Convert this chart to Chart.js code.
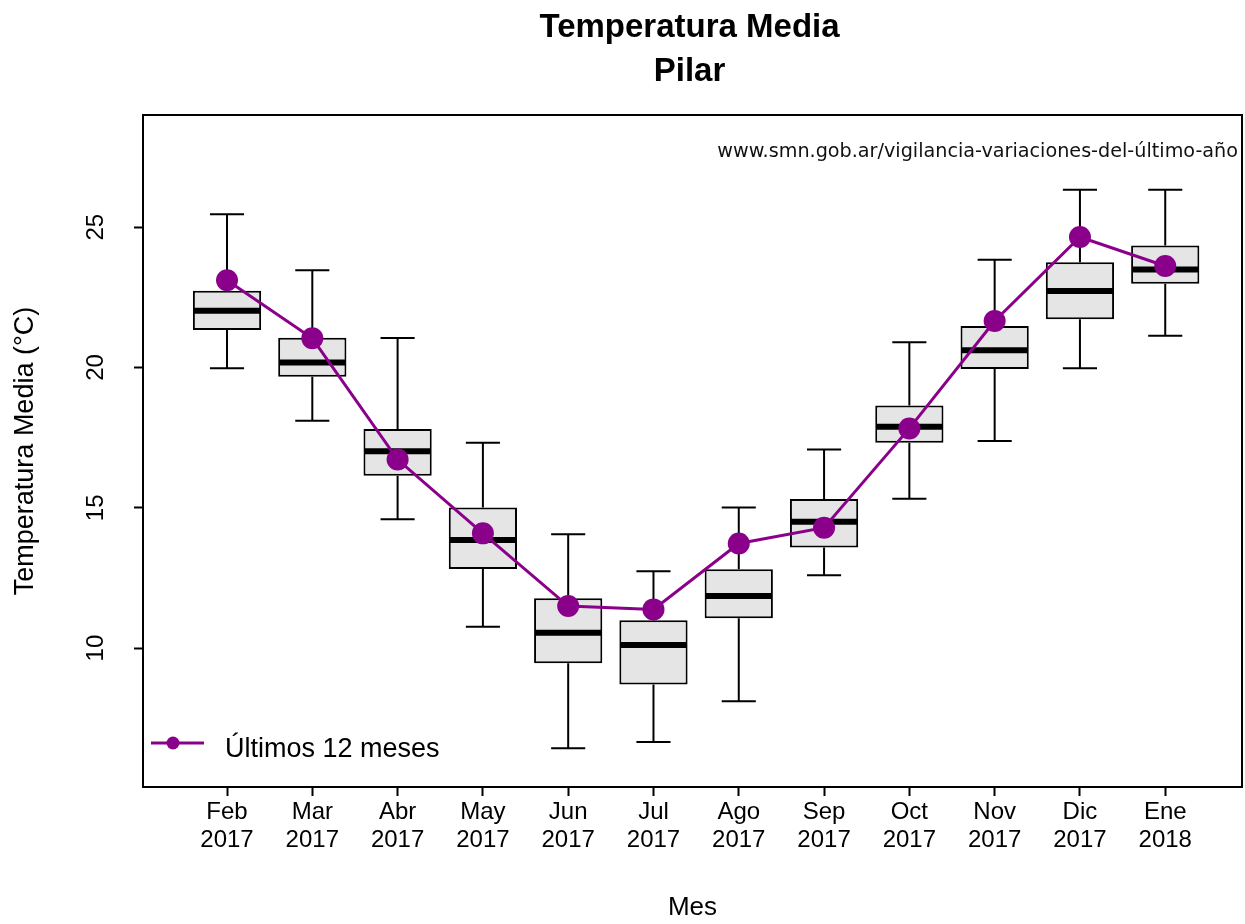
<!DOCTYPE html>
<html lang="es">
<head>
<meta charset="UTF-8">
<title>Temperatura Media - Pilar</title>
<style>
  body { margin: 0; background: #fff; }
  canvas { display: block; }
</style>
</head>
<body>
<canvas id="grafico" width="1245" height="924"></canvas>
<script src="https://cdn.jsdelivr.net/npm/chart.js"></script>
<script>
// Datos
const meses = [['Feb', '2017'], ['Mar', '2017'], ['Abr', '2017'], ['May', '2017'], ['Jun', '2017'], ['Jul', '2017'],
               ['Ago', '2017'], ['Sep', '2017'], ['Oct', '2017'], ['Nov', '2017'], ['Dic', '2017'], ['Ene', '2018']];
const bigoteInf = [19.97, 18.10, 14.59, 10.76, 6.43, 6.65, 8.11, 12.60, 15.32, 17.38, 19.97, 21.13];
const cuartil1  = [21.34, 19.67, 16.14, 12.82, 9.46, 8.70, 11.06, 13.59, 17.32, 19.95, 21.72, 22.99];
const mediana   = [22.02, 20.18, 17.02, 13.85, 10.55, 10.11, 11.86, 14.50, 17.89, 20.62, 22.73, 23.49];
const cuartil3  = [22.74, 21.06, 17.81, 15.01, 11.78, 10.99, 12.81, 15.31, 18.65, 21.48, 23.75, 24.35];
const bigoteSup = [25.46, 23.47, 21.05, 17.32, 14.06, 12.74, 15.01, 17.08, 20.90, 23.84, 26.34, 26.34];
const ultimos12 = [23.11, 21.04, 16.72, 14.09, 11.50, 11.38, 13.73, 14.29, 17.83, 21.66, 24.65, 23.62];

const FUENTE = "'Liberation Sans', Arial, sans-serif";
const VIOLETA = '#8B008B';

// Bigotes, medianas, marco y textos al estilo de R
const cajas = {
    id: 'cajas',
    afterDatasetDraw(chart, args) {
        if (args.meta.type !== 'bar') return;
        const ctx = chart.ctx;
        const y = chart.scales.y;
        ctx.save();
        ctx.strokeStyle = '#000';
        args.meta.data.forEach((bar, i) => {
            const mitad = bar.width / 2;
            const tope = bar.width / 4;
            const ySup = y.getPixelForValue(bigoteSup[i]);
            const yInf = y.getPixelForValue(bigoteInf[i]);
            ctx.lineWidth = 2;
            ctx.beginPath();
            ctx.moveTo(bar.x, y.getPixelForValue(cuartil3[i]));
            ctx.lineTo(bar.x, ySup);
            ctx.moveTo(bar.x, y.getPixelForValue(cuartil1[i]));
            ctx.lineTo(bar.x, yInf);
            ctx.moveTo(bar.x - tope, ySup);
            ctx.lineTo(bar.x + tope, ySup);
            ctx.moveTo(bar.x - tope, yInf);
            ctx.lineTo(bar.x + tope, yInf);
            ctx.stroke();
            ctx.lineWidth = 6;
            ctx.beginPath();
            const yMed = y.getPixelForValue(mediana[i]);
            ctx.moveTo(bar.x - mitad + 1, yMed);
            ctx.lineTo(bar.x + mitad - 1, yMed);
            ctx.stroke();
        });
        ctx.restore();
    },
    afterDraw(chart) {
        const ctx = chart.ctx;
        const area = chart.chartArea;
        const y = chart.scales.y;
        const centro = (area.left + area.right) / 2;
        ctx.save();

        // marco
        ctx.strokeStyle = '#000';
        ctx.lineWidth = 2;
        ctx.strokeRect(area.left, area.top, area.right - area.left, area.bottom - area.top);

        // etiquetas del eje y, verticales
        ctx.fillStyle = '#000';
        ctx.font = '24px ' + FUENTE;
        ctx.textAlign = 'center';
        ctx.textBaseline = 'middle';
        y.ticks.forEach(t => {
            ctx.save();
            ctx.translate(area.left - 47, y.getPixelForValue(t.value));
            ctx.rotate(-Math.PI / 2);
            ctx.fillText(String(t.value), 0, 0);
            ctx.restore();
        });

        // título
        ctx.font = 'bold 33px ' + FUENTE;
        ctx.textBaseline = 'alphabetic';
        ctx.fillText('Temperatura Media', centro - 3, 37);
        ctx.fillText('Pilar', centro - 3, 81);

        // fuente de los datos
        ctx.font = "19.2px 'DejaVu Sans', Verdana, sans-serif";
        ctx.textAlign = 'right';
        ctx.textBaseline = 'middle';
        ctx.fillStyle = '#111';
        ctx.fillText('www.smn.gob.ar/vigilancia-variaciones-del-último-año', area.right - 4, 152);

        // leyenda
        const ly = area.bottom - 44;
        ctx.strokeStyle = VIOLETA;
        ctx.lineWidth = 3;
        ctx.beginPath();
        ctx.moveTo(area.left + 8, ly);
        ctx.lineTo(area.left + 61, ly);
        ctx.stroke();
        ctx.fillStyle = VIOLETA;
        ctx.beginPath();
        ctx.arc(area.left + 30, ly, 6.5, 0, Math.PI * 2);
        ctx.fill();
        ctx.fillStyle = '#000';
        ctx.font = '27px ' + FUENTE;
        ctx.textAlign = 'left';
        ctx.textBaseline = 'alphabetic';
        ctx.fillText('Últimos 12 meses', area.left + 82, ly + 14);

        ctx.restore();
    }
};

new Chart(document.getElementById('grafico'), {
    type: 'bar',
    data: {
        datasets: [
            {
                type: 'line',
                label: 'Últimos 12 meses',
                data: ultimos12.map((v, i) => ({ x: i, y: v })),
                borderColor: VIOLETA,
                backgroundColor: VIOLETA,
                borderWidth: 3,
                pointRadius: 11,
                pointBorderWidth: 0,
                pointBackgroundColor: VIOLETA,
                tension: 0,
                order: 1
            },
            {
                type: 'bar',
                label: 'Climatología',
                data: cuartil1.map((v, i) => ({ x: i, y: [v, cuartil3[i]] })),
                backgroundColor: '#E5E5E5',
                borderColor: '#000',
                borderWidth: 2,
                borderSkipped: false,
                barPercentage: 0.8,
                categoryPercentage: 1,
                order: 2
            }
        ]
    },
    options: {
        responsive: false,
        animation: false,
        layout: { autoPadding: false, padding: { top: 115, right: 3, left: 0, bottom: 0 } },
        plugins: {
            legend: { display: false },
            tooltip: { enabled: false }
        },
        scales: {
            x: {
                type: 'linear',
                min: -0.985,
                max: 11.9,
                offset: false,
                afterFit: s => { s.height = 137; s.paddingLeft = 0; s.paddingRight = 0; },
                border: { display: false },
                grid: { offset: false, drawOnChartArea: false, drawTicks: true, tickLength: 9, tickColor: '#000', tickWidth: 2 },
                ticks: {
                    stepSize: 1,
                    includeBounds: false,
                    autoSkip: false,
                    maxRotation: 0,
                    padding: 2,
                    color: '#000',
                    font: { family: FUENTE, size: 24, lineHeight: 1.17 },
                    callback: v => meses[v]
                },
                title: {
                    display: true,
                    text: 'Mes',
                    color: '#000',
                    font: { family: FUENTE, size: 26 },
                    padding: { top: 0, bottom: 1 }
                }
            },
            y: {
                min: 5.05,
                max: 29.0,
                beginAtZero: false,
                afterFit: s => { s.width = 143; },
                border: { display: false },
                grid: { drawOnChartArea: false, drawTicks: true, tickLength: 9, tickColor: '#000', tickWidth: 2 },
                ticks: { stepSize: 5, includeBounds: false, display: false },
                title: {
                    display: true,
                    text: 'Temperatura Media (°C)',
                    color: '#000',
                    font: { family: FUENTE, size: 27 },
                    padding: { top: 9, bottom: 0 }
                }
            }
        }
    },
    plugins: [cajas]
});
</script>
</body>
</html>
